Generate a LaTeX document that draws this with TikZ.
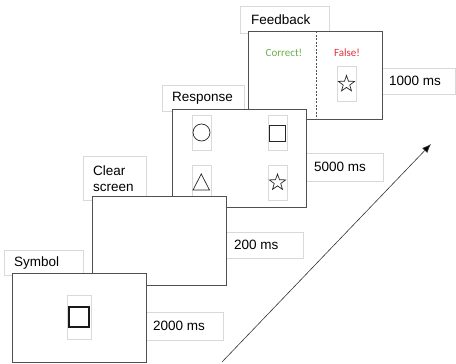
\documentclass[tikz,border=0pt]{standalone}
\usepackage{fontspec}
\setmainfont{Liberation Sans}
\newfontfamily\calibfont{Carlito}
\usetikzlibrary{shapes.geometric,arrows.meta}
\definecolor{scrline}{HTML}{505050}
\definecolor{lblline}{HTML}{D9D9D9}
\definecolor{okgreen}{HTML}{6CB14A}
\definecolor{badred}{HTML}{E0303F}
\begin{document}
\begin{tikzpicture}[x=1pt,y=-1pt,
  screen/.style={draw=scrline, line width=0.8pt, fill=white, inner sep=0pt, outer sep=0pt, anchor=north west},
  lbl/.style={draw=lblline, line width=0.6pt, fill=white, inner sep=0pt, outer sep=0pt, anchor=north west},
  symbox/.style={draw=lblline, line width=0.5pt, fill=white, inner sep=0pt, outer sep=0pt, minimum width=19pt, minimum height=35pt},
  txt/.style={anchor=west, inner sep=0pt, font=\fontsize{13.5}{16}\selectfont},
  fbtxt/.style={inner sep=0pt, font=\calibfont\fontsize{11}{13}\selectfont},
  shp/.style={draw=black!85, line width=0.7pt, inner sep=0pt, outer sep=0pt},
  starshape/.style={shp, star, star points=5, star point ratio=2.5, minimum size=17pt}
]
\useasboundingbox (0,0) rectangle (456,364);
% ---- Feedback
\node[lbl, minimum width=89pt, minimum height=27pt] (lfb) at (240,6) {};
\node[txt] (tfb) at (251,20) {Feedback};
\node[lbl, minimum width=73.5pt, minimum height=26pt] (bfb) at (382,68) {};
\node[txt] (tbfb) at (389,81) {1000 ms};
\node[screen, minimum width=134pt, minimum height=88pt] (sfb) at (248,31) {};
\coordinate (d0) at (316,31);
\coordinate (d1) at (316,119);
\draw[scrline, line width=0.6pt, dash pattern=on 2pt off 1.5pt] (d0) -- (d1);
\node[fbtxt, text=okgreen] (tok) at (284,53) {Correct!};
\node[fbtxt, text=badred] (tbad) at (347,53) {False!};
\node[symbox] (bxfs) at (346.5,84) {};
\node[starshape] (stfb) at (346.5,84) {};
% ---- Response
\node[lbl, minimum width=82pt, minimum height=26pt] (lrs) at (162,85) {};
\node[txt] (trs) at (172,98) {Response};
\node[lbl, minimum width=77pt, minimum height=28pt] (brs) at (306,153) {};
\node[txt] (tbrs) at (314,167) {5000 ms};
\node[screen, minimum width=134pt, minimum height=98pt] (srs) at (172,109) {};
\node[symbox] (bxc) at (201.5,132.5) {};
\node[shp, circle, minimum size=17pt] (circ) at (201.5,132.5) {};
\node[symbox] (bxq) at (277.5,132.5) {};
\node[shp, rectangle, minimum size=16pt] (sq2) at (277.5,133) {};
\node[symbox] (bxt) at (201.5,182.5) {};
\coordinate (t1) at (193,190);
\coordinate (t2) at (209.5,190);
\coordinate (t3) at (201.25,174);
\draw[shp, line join=miter] (t1) -- (t2) -- (t3) -- cycle;
\node[symbox] (bxs) at (277.5,182.5) {};
\node[starshape] (strs) at (277.5,182.5) {};
% ---- Clear screen
\node[lbl, minimum width=63pt, minimum height=44pt] (lcs) at (83,156) {};
\node[txt, align=left, font=\fontsize{13.5}{16}\selectfont] (tcs) at (93,179) {Clear\\screen};
\node[lbl, minimum width=77pt, minimum height=26pt] (bcs) at (226,232) {};
\node[txt] (tbcs) at (234,245) {200 ms};
\node[screen, minimum width=134pt, minimum height=89pt] (scs) at (92,196) {};
% ---- Symbol
\node[lbl, minimum width=79pt, minimum height=25pt] (lsy) at (4,250) {};
\node[txt] (tsy) at (14,263) {Symbol};
\node[lbl, minimum width=77pt, minimum height=28pt] (bsy) at (146,312) {};
\node[txt] (tbsy) at (153,326) {2000 ms};
\node[screen, minimum width=134pt, minimum height=89pt] (ssy) at (12,273) {};
\node[symbox, minimum width=24pt, minimum height=44pt] (bxsy) at (79,317) {};
\node[draw=black!90, line width=1.3pt, minimum size=20pt, inner sep=0pt] (sqsy) at (79,317) {};
% ---- time arrow
\coordinate (a0) at (222,362);
\coordinate (a1) at (431,144);
\draw[black!80, line width=0.6pt, -{Latex[length=9pt,width=7pt,fill=black]}] (a0) -- (a1);
\end{tikzpicture}
\end{document}
